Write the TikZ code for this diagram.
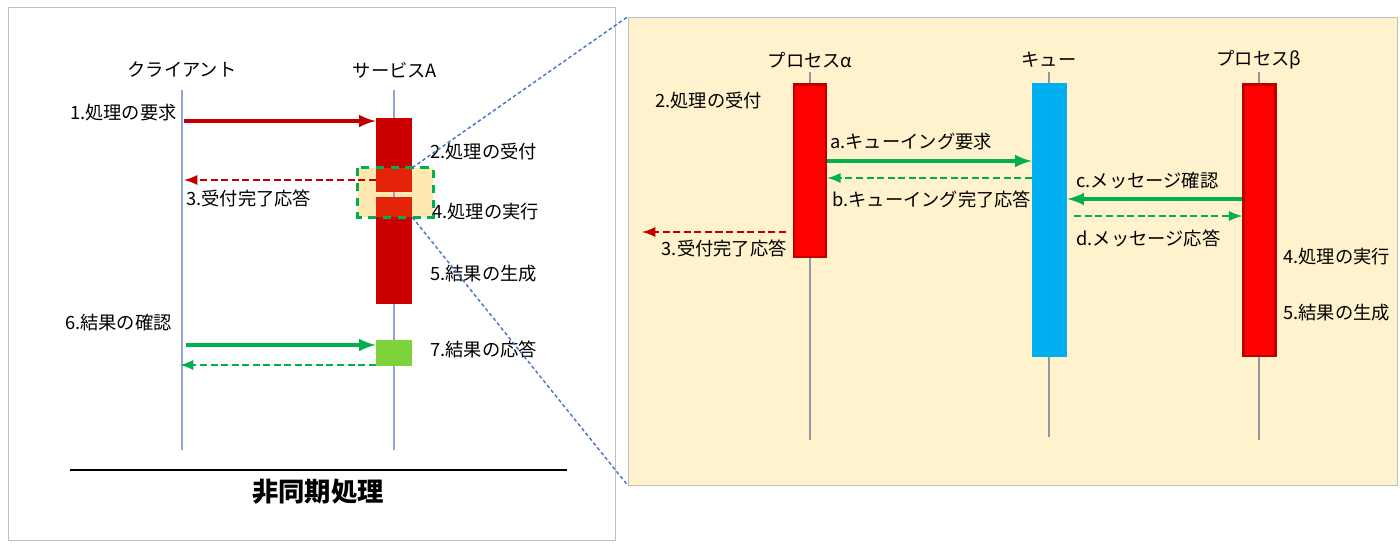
\documentclass[tikz,border=0pt]{standalone}
\usepackage{fontspec}
\newfontfamily\jp{Noto Sans CJK JP}
\definecolor{arrred}{HTML}{C00000}
\definecolor{srvred}{HTML}{CC0000}
\definecolor{hlred}{HTML}{E42408}
\definecolor{procred}{HTML}{FF0000}
\definecolor{arrgreen}{HTML}{00B050}
\definecolor{resgreen}{HTML}{7ED33A}
\definecolor{queueblue}{HTML}{00B0F0}
\definecolor{lifeblue}{HTML}{8FA5CF}
\definecolor{lifegray}{HTML}{8E99A8}
\definecolor{panelgray}{HTML}{BFBFBF}
\definecolor{zoomyellow}{HTML}{FFF2CC}
\definecolor{hlyellow}{HTML}{FFE9B0}
\definecolor{zoomblue}{HTML}{4472C4}
\begin{document}
\begin{tikzpicture}[x=0.02cm,y=-0.02cm,
    txt/.style={font=\jp\fontsize{10.4}{12.5}\selectfont, inner sep=0pt},
    bar/.style={minimum width=0.72cm, inner sep=0pt},
    pbar/.style={minimum width=0.64cm, inner sep=0pt, fill=procred, draw=arrred, line width=1.4pt},
    solidarr/.style={-latex, line width=2.2pt},
    dasharr/.style={-latex, line width=1.6pt, dash pattern=on 4pt off 2pt}]
  \useasboundingbox (0,0) rectangle (1400,545);

  % left: asynchronous processing
  \begin{scope}
    \draw[panelgray] (8,7) rectangle (615,540);
    \node[txt] (client) at (182,70) {クライアント};
    \node[txt] (service) at (395,70) {サービスA};
    \draw[lifeblue, line width=0.7pt] (182,90) -- (182,450);
    \draw[lifeblue, line width=0.7pt] (394,90) -- (394,450);

    \node[bar, fill=srvred, minimum height=3.72cm] (srvbar) at (394,211) {};
    \node[inner sep=0pt, fill=hlyellow, minimum width=1.5cm, minimum height=0.98cm] (hl) at (395.5,192.5) {};
    \fill[hlred] (376,168) rectangle (412,192);
    \fill[hlred] (376,197) rectangle (412,217);
    \draw[lifeblue, line width=0.7pt] (394,192) -- (394,197);
    \draw[arrgreen, line width=1.6pt, dash pattern=on 5pt off 3.5pt] (hl.north west) rectangle (hl.south east);
    \node[bar, fill=resgreen, minimum height=0.52cm] (resbox) at (394,353) {};

    \coordinate (req) at (184,121);
    \coordinate (ack) at (184,180);
    \coordinate (chk) at (186,345);
    \coordinate (res) at (180,365);
    \draw[solidarr, arrred] (req) -- (srvbar.west |- req);
    \draw[dasharr, arrred] (srvbar.west |- ack) -- (ack);
    \draw[solidarr, arrgreen] (chk) -- (resbox.west |- chk);
    \draw[dasharr, arrgreen] (resbox.west |- res) -- (res);

    \node[txt, anchor=east] (l1) at (177,113) {1.処理の要求};
    \node[txt, anchor=west] (l2) at (430,152) {2.処理の受付};
    \node[txt, anchor=west] (l3) at (186,198) {3.受付完了応答};
    \node[txt, anchor=west] (l4) at (432,212) {4.処理の実行};
    \node[txt, anchor=west] (l5) at (430,274) {5.結果の生成};
    \node[txt, anchor=east] (l6) at (172,323) {6.結果の確認};
    \node[txt, anchor=west] (l7) at (430,349) {7.結果の応答};

    \draw[line width=0.9pt] (70,470) -- (567,470);
    \node[font=\jp\bfseries\fontsize{15}{18}\selectfont, inner sep=0pt] (title) at (318,492) {非同期処理};
  \end{scope}

  % right: zoomed detail
  \begin{scope}
    \node[draw=panelgray, fill=zoomyellow, inner sep=0pt, minimum width=15.38cm, minimum height=9.36cm] (zoom) at (1012.5,251) {};
    \draw[zoomblue, line width=0.8pt, dash pattern=on 2pt off 1.5pt] (srvbar.east |- hl.north) -- (zoom.north west);
    \draw[zoomblue, line width=0.8pt, dash pattern=on 2pt off 1.5pt] (srvbar.east |- hl.south) -- (zoom.south west);

    \node[txt] (alpha) at (810,60) {プロセスα};
    \node[txt] (queue) at (1049,60) {キュー};
    \node[txt] (beta) at (1259,60) {プロセスβ};
    \draw[lifegray, line width=0.7pt] (810,72) -- (810,440);
    \draw[lifegray, line width=0.7pt] (1049,72) -- (1049,437);
    \draw[lifegray, line width=0.7pt] (1259,72) -- (1259,440);

    \node[pbar, minimum height=3.45cm] (alphabar) at (810,170.5) {};
    \node[bar, fill=queueblue, minimum width=0.7cm, minimum height=5.48cm] (queuebar) at (1049.5,220) {};
    \node[pbar, minimum height=5.43cm] (betabar) at (1259.5,220) {};

    \coordinate (ya) at (0,161);
    \coordinate (yb) at (0,178);
    \coordinate (yc) at (0,199);
    \coordinate (yd) at (0,216);
    \coordinate (back) at (642,232);
    \draw[solidarr, arrgreen] (alphabar.east |- ya) -- (queuebar.west |- ya);
    \draw[dasharr, arrgreen] (queuebar.west |- yb) -- (alphabar.east |- yb);
    \draw[solidarr, arrgreen] (betabar.west |- yc) -- (queuebar.east |- yc);
    \draw[dasharr, arrgreen, shorten <=4pt] (queuebar.east |- yd) -- (betabar.west |- yd);
    \draw[dasharr, arrred, shorten <=4pt] (alphabar.west |- back) -- (back);

    \node[txt, anchor=west] (r2) at (655,101) {2.処理の受付};
    \node[txt, anchor=west] (ra) at (830,142) {a.キューイング要求};
    \node[txt, anchor=west] (rb) at (832,199) {b.キューイング完了応答};
    \node[txt, anchor=west] (rc) at (1076,181) {c.メッセージ確認};
    \node[txt, anchor=west] (rd) at (1076,238) {d.メッセージ応答};
    \node[txt, anchor=east] (r3) at (787,248) {3.受付完了応答};
    \node[txt, anchor=west] (r4) at (1283,257) {4.処理の実行};
    \node[txt, anchor=west] (r5) at (1283,313) {5.結果の生成};
  \end{scope}
\end{tikzpicture}
\end{document}
